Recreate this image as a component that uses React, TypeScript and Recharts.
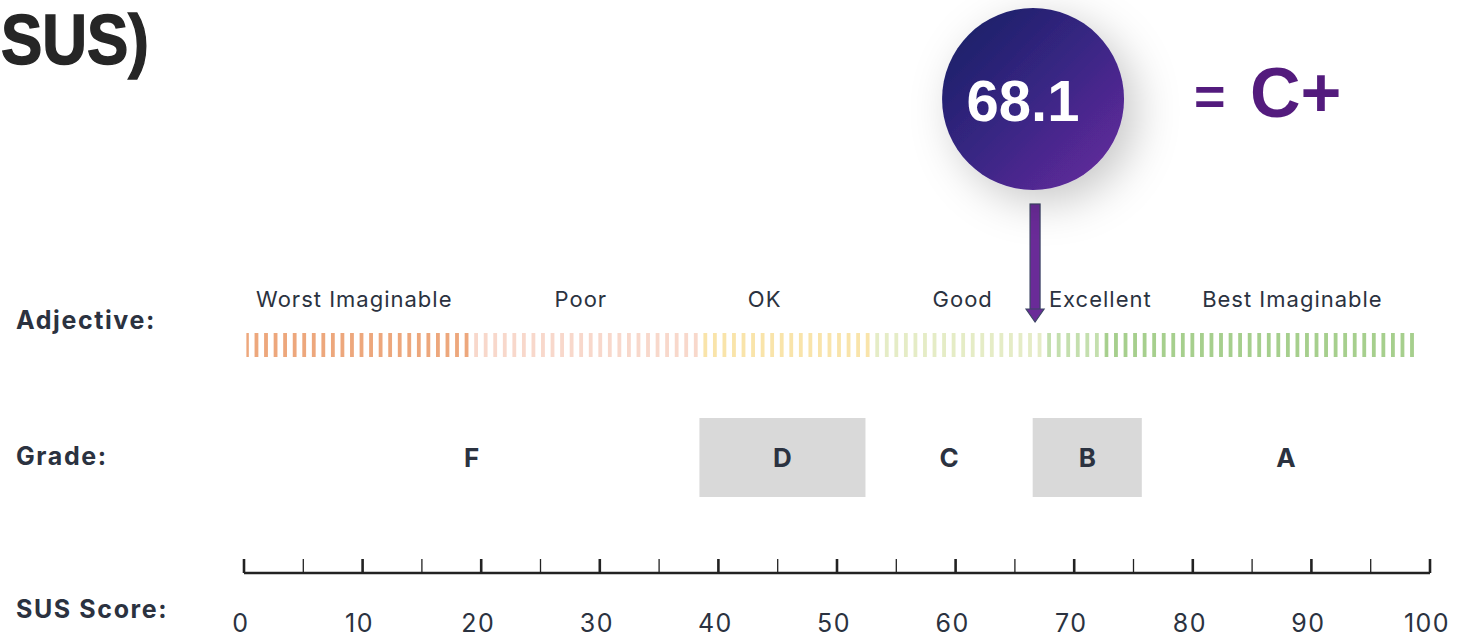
import React from "react";
import { ComposedChart, XAxis, YAxis, ReferenceArea, Scatter } from "recharts";

// SUS score axis
const scoreTicks = [0, 5, 10, 15, 20, 25, 30, 35, 40, 45, 50, 55, 60, 65, 70, 75, 80, 85, 90, 95, 100];

// adjective scale (striped bands + their names)
const adjectiveNames = ["Worst Imaginable", "Poor", "OK", "Good", "Excellent", "Best Imaginable"];
const adjectiveLabelAt = [9.3, 28.4, 43.9, 60.6, 72.2, 88.4];
const adjectiveFrom = [0.2, 19.1, 38.7, 52.8, 67.5, 72.6];
const adjectiveTo = [19.1, 38.7, 52.8, 67.5, 72.6, 98.7];
const adjectiveColors = ["#eda77c", "#f8d8cb", "#f9e4aa", "#e5ecc6", "#c4dfae", "#a6cf8d"];

// grade bands
const gradeNames = ["F", "D", "C", "B", "A"];
const gradeFrom = [0, 38.4, 52.4, 66.5, 75.7];
const gradeTo = [38.4, 52.4, 66.5, 75.7, 100];
const gradeShaded = [false, true, false, true, false];

// result
const susScore = "68.1";
const susGrade = "C+";
const markerAt = 66.7; // where the arrow points on the picture

// vertical layout (y axis runs top -> bottom in px-like units)
const ROW = {
  badge: 99,
  adjLabel: 299,
  adjTop: 333,
  adjBottom: 357,
  gradeTop: 418,
  gradeBottom: 497,
};

const TEXT = "#2b3240";
const FONT = "Inter, 'Noto Sans', sans-serif";
const BOLD = "'Liberation Sans', Arial, sans-serif";

const ScoreTick = ({ x, y, payload }: any) => {
  const major = payload.value % 10 === 0;
  return (
    <g>
      <line x1={x} x2={x} y1={y - 14} y2={y} stroke="#222" strokeWidth={major ? 2.6 : 1.3} />
      {major && (
        <text
          x={x - 3}
          y={y + 59}
          textAnchor="middle"
          fontSize={25}
          letterSpacing={1.5}
          fill={TEXT}
          fontFamily={FONT}
        >
          {payload.value}
        </text>
      )}
    </g>
  );
};

const AdjectiveLabel = ({ cx, cy, payload }: any) => (
  <text x={cx} y={cy + 8} textAnchor="middle" fontSize={22} letterSpacing={1} fill={TEXT} fontFamily={FONT}>
    {payload.name}
  </text>
);

const Badge = ({ cx, cy }: any) => (
  <g>
    <defs>
      <linearGradient id="badgeFill" x1="0" y1="0" x2="1" y2="1">
        <stop offset="0%" stopColor="#141f62" />
        <stop offset="50%" stopColor="#392684" />
        <stop offset="100%" stopColor="#6a2ba0" />
      </linearGradient>
      <filter id="badgeShadow" x="-60%" y="-60%" width="220%" height="220%">
        <feDropShadow dx={12} dy={12} stdDeviation={22} floodColor="#000" floodOpacity={0.22} />
      </filter>
    </defs>
    <rect x={cx - 5} y={cy + 105} width={10} height={107} fill="#6a2b98" stroke="#3c4565" strokeWidth={1.2} />
    <polygon
      points={`${cx - 9},${cy + 210} ${cx + 9},${cy + 210} ${cx},${cy + 223}`}
      fill="#6a2b98"
      stroke="#3c4565"
      strokeWidth={1.2}
    />
    <circle cx={cx - 2} cy={cy} r={91} fill="url(#badgeFill)" filter="url(#badgeShadow)" />
    <text x={cx - 12} y={cy + 22} textAnchor="middle" fontSize={58} fontWeight={700} fill="#fff" fontFamily={BOLD}>
      {susScore}
    </text>
    <text x={cx + 159} y={cy + 16} fontSize={54} fontWeight={700} fill="#531b7d" fontFamily={BOLD}>
      =
    </text>
    <text x={cx + 215} y={cy + 18} fontSize={70} fontWeight={700} fill="#531b7d" fontFamily={BOLD}>
      {susGrade}
    </text>
  </g>
);

export default function App() {
  const adjectiveData = adjectiveNames.map((name, i) => ({ x: adjectiveLabelAt[i], y: ROW.adjLabel, name }));
  const markerData = [{ x: markerAt, y: ROW.badge }];

  return (
    <div style={{ position: "absolute", left: 0, top: 0, width: 1460, height: 638, background: "#fff", overflow: "hidden" }}>
      <ComposedChart width={1460} height={638} margin={{ top: 0, right: 30, bottom: 0, left: 244 }}>
        <defs>
          {adjectiveColors.map((c, i) => (
            <pattern key={i} id={`adj-${i}`} patternUnits="userSpaceOnUse" x={245} y={0} width={9.55} height={638}>
              <rect x={0} y={0} width={3.8} height={638} fill={c} />
            </pattern>
          ))}
        </defs>
        <XAxis
          type="number"
          dataKey="x"
          domain={[0, 100]}
          ticks={scoreTicks}
          interval={0}
          height={65}
          tickSize={0}
          tickMargin={0}
          tickLine={false}
          axisLine={{ stroke: "#222", strokeWidth: 2.5 }}
          tick={<ScoreTick />}
        />
        <YAxis type="number" dataKey="y" domain={[0, 573]} reversed hide />

        {adjectiveNames.map((n, i) => (
          <ReferenceArea
            key={n}
            x1={adjectiveFrom[i]}
            x2={adjectiveTo[i]}
            y1={ROW.adjTop}
            y2={ROW.adjBottom}
            fill={`url(#adj-${i})`}
            fillOpacity={1}
            stroke="none"
          />
        ))}

        {gradeNames.map((g, i) => (
          <ReferenceArea
            key={g}
            x1={gradeFrom[i]}
            x2={gradeTo[i]}
            y1={ROW.gradeTop}
            y2={ROW.gradeBottom}
            fill={gradeShaded[i] ? "#d9d9d9" : "transparent"}
            fillOpacity={1}
            stroke="none"
            label={{ value: g, position: "center", fill: TEXT, fontSize: 26, fontWeight: 700, fontFamily: FONT }}
          />
        ))}

        <Scatter data={adjectiveData} shape={<AdjectiveLabel />} isAnimationActive={false} />
        <Scatter data={markerData} shape={<Badge />} isAnimationActive={false} />
      </ComposedChart>

      <svg width={1460} height={638} style={{ position: "absolute", left: 0, top: 0, pointerEvents: "none" }}>
        <text
          x={1}
          y={64}
          fontSize={70}
          fontWeight={700}
          fill="#262626"
          stroke="#262626"
          strokeWidth={1.5}
          textLength={148}
          lengthAdjust="spacingAndGlyphs"
          fontFamily={BOLD}
        >
          SUS)
        </text>
        <text x={16} y={329} fontSize={25} fontWeight={700} fill={TEXT} fontFamily={FONT} letterSpacing={1.6}>
          Adjective:
        </text>
        <text x={16} y={465} fontSize={25} fontWeight={700} fill={TEXT} fontFamily={FONT} letterSpacing={1.6}>
          Grade:
        </text>
        <text x={16} y={618} fontSize={25} fontWeight={700} fill={TEXT} fontFamily={FONT} letterSpacing={1.6}>
          SUS Score:
        </text>
      </svg>
    </div>
  );
}
